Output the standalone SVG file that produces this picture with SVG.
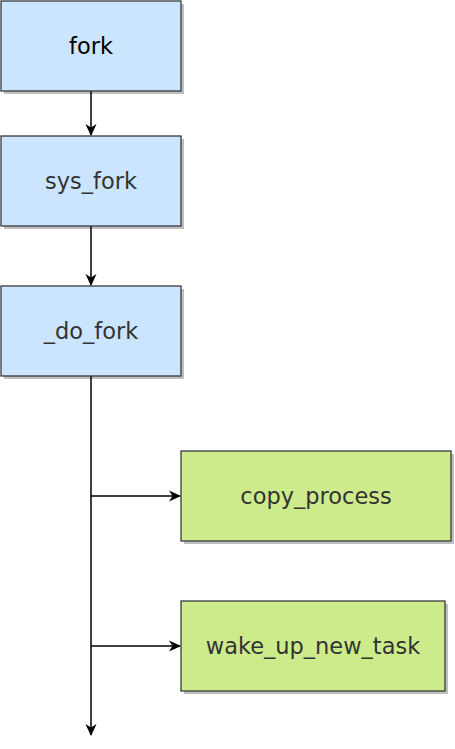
<svg xmlns="http://www.w3.org/2000/svg" width="455" height="749" viewBox="0 0 455 749">
<style>
.box{stroke:#36393d;stroke-width:1.3}
.blue{fill:#cce5ff}
.green{fill:#cdeb8b}
.sh{fill:#000;opacity:0.25}
.t{font-family:"Comic Sans MS","DejaVu Sans",sans-serif;font-size:22.5px;fill:#333;text-anchor:middle;dominant-baseline:central}
.c{fill:none;stroke:#000;stroke-width:1.5}
</style>
<defs>
<marker id="a" viewBox="0 0 12 12" refX="11" refY="6" markerWidth="12" markerHeight="12" markerUnits="userSpaceOnUse" orient="auto">
<path d="M0,0.5 L12,6 L0,11.5 L3.5,6 Z" fill="#000"/>
</marker>
</defs>
<g id="connectors">
<path class="c" d="M91,91 V135" marker-end="url(#a)"/>
<path class="c" d="M91,226 V285" marker-end="url(#a)"/>
<path class="c" d="M91,376 V735" marker-end="url(#a)"/>
<path class="c" d="M91,496 H180" marker-end="url(#a)"/>
<path class="c" d="M91,646 H180" marker-end="url(#a)"/>
</g>
<g id="fork">
<rect class="sh" x="4" y="4" width="180" height="90"/>
<rect class="box blue" x="1" y="1" width="180" height="90"/>
<text class="t" x="91" y="46" style="fill:#000">fork</text>
</g>
<g id="sys_fork">
<rect class="sh" x="4" y="139" width="180" height="90"/>
<rect class="box blue" x="1" y="136" width="180" height="90"/>
<text class="t" x="91" y="181">sys_fork</text>
</g>
<g id="do_fork">
<rect class="sh" x="4" y="289" width="180" height="90"/>
<rect class="box blue" x="1" y="286" width="180" height="90"/>
<text class="t" x="91" y="331">_do_fork</text>
</g>
<g id="copy_process">
<rect class="sh" x="184" y="454" width="270" height="90"/>
<rect class="box green" x="181" y="451" width="270" height="90"/>
<text class="t" x="316" y="496">copy_process</text>
</g>
<g id="wake_up_new_task">
<rect class="sh" x="184" y="604" width="264" height="90"/>
<rect class="box green" x="181" y="601" width="264" height="90"/>
<text class="t" x="313" y="646">wake_up_new_task</text>
</g>
</svg>
